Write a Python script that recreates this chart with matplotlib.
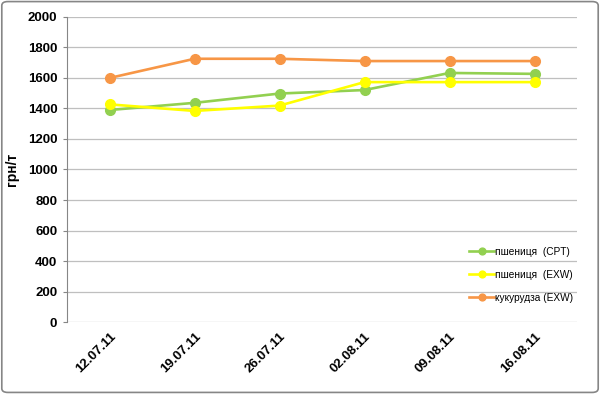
import matplotlib
matplotlib.use("Agg")
import matplotlib.pyplot as plt
from matplotlib.patches import FancyBboxPatch

# data
dates = ["12.07.11", "19.07.11", "26.07.11", "02.08.11", "09.08.11", "16.08.11"]
wheat_cpt = [1390, 1437, 1498, 1521, 1633, 1627]
wheat_exw = [1427, 1384, 1419, 1573, 1573, 1573]
corn_exw = [1600, 1726, 1726, 1711, 1711, 1711]
labels = ["пшениця  (CPT)", "пшениця  (EXW)", "кукурудза (EXW)"]
colors = ["#92D050", "#FFFF00", "#F79646"]

plt.rcParams['font.family'] = ['Liberation Sans', 'DejaVu Sans']

fig = plt.figure(figsize=(6, 3.94), dpi=100)
ax = fig.add_axes([0.1117, 0.1827, 0.85, 0.7742])

x = range(len(dates))
for vals, lab, col in zip([wheat_cpt, wheat_exw, corn_exw], labels, colors):
    ax.plot(x, vals, color=col, lw=1.9, marker='o', markersize=7, label=lab)

ax.set_xlim(-0.5, len(dates) - 0.5)
ax.set_ylim(0, 2000)
ax.set_yticks(range(0, 2001, 200))
ax.set_xticks(list(x))
ax.set_xticklabels(dates, rotation=45, ha='right', rotation_mode='anchor', fontsize=9.5, fontweight='bold')
for t in ax.get_yticklabels():
    t.set_fontsize(9.5)
    t.set_fontweight('bold')
ax.set_ylabel("грн/т", fontsize=10, fontweight='bold', labelpad=6)

ax.grid(axis='y', color='#BFBFBF', lw=0.9)
ax.set_axisbelow(True)
for s in ['top', 'right', 'bottom']:
    ax.spines[s].set_visible(False)
ax.spines['left'].set_color('#868686')
ax.tick_params(axis='x', length=0, pad=6)
ax.tick_params(axis='y', length=3, color='#868686', pad=4)

leg = ax.legend(loc='center left', bbox_to_anchor=(0.77, 0.155), frameon=False,
                fontsize=7.3, handlelength=2.5, labelspacing=1.3, handletextpad=0.1,
                markerscale=0.7)

fig.patches.append(FancyBboxPatch((0.003, 0.004), 0.994, 0.992, boxstyle="round,pad=0,rounding_size=0.01",
                                  transform=fig.transFigure, fill=False, ec='#868686', lw=1.2))

fig.savefig("out.png", dpi=100)
